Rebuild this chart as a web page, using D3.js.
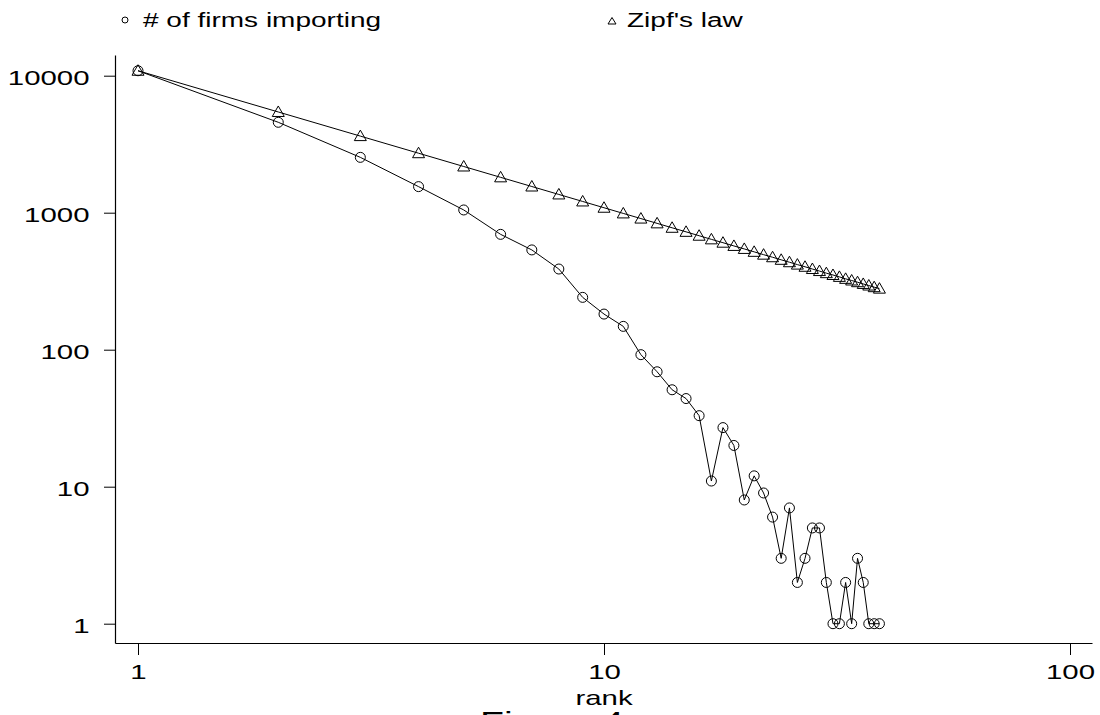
<!DOCTYPE html>
<html>
<head>
<meta charset="utf-8">
<script src="https://cdn.jsdelivr.net/npm/d3@7"></script>
<style>
  html, body { margin: 0; padding: 0; background: #fff; }
  svg { display: block; font-family: "Liberation Sans", Arial, sans-serif; }
</style>
</head>
<body>
<svg id="chart" width="1100" height="715"></svg>
<script>
// ---- data ----
const ranks = [1,2,3,4,5,6,7,8,9,10,11,12,13,14,15,16,17,18,19,20,21,22,23,24,25,26,27,28,29,30,31,32,33,34,35,36,37,38,39];
const firmsImporting = [10870,4570,2535,1550,1047,695,535,388,241,182,148,92,69,51,44,33,11,27,20,8,12,9,6,3,7,2,3,5,5,2,1,1,2,1,3,2,1,1,1];
const zipfLaw = [10870,5435,3623,2718,2174,1812,1553,1359,1208,1087,988,906,836,776,725,679,639,604,572,544,518,494,473,453,435,418,403,388,375,362,351,340,329,320,311,302,294,286,279];
const xTickValues = [1, 10, 100];
const yTickValues = [1, 10, 100, 1000, 10000];
const legendLabels = ["# of firms importing", "Zipf's law"];
const xTitle = "rank";
const captionText = "Figure 4:";

// ---- layout ----
const SX = 1.4; // horizontal text stretch seen in the reference
const svg = d3.select("#chart");
const x = d3.scaleLog().domain([1, 100]).range([138, 1070]);
const y = d3.scaleLog().domain([1, 10000]).range([623.7, 75.7]);
const axisLeftX = 115, axisRightX = 1092, axisBottomY = 643, axisTopY = 55;

const xAxisScale = x.copy().domain([x.invert(axisLeftX), x.invert(axisRightX)]).range([axisLeftX, axisRightX]);
const yAxisScale = y.copy().domain([y.invert(axisBottomY), y.invert(axisTopY)]).range([axisBottomY, axisTopY]);

// y axis
const gy = svg.append("g").attr("transform", `translate(${axisLeftX},0)`)
  .call(d3.axisLeft(yAxisScale).tickValues(yTickValues).tickFormat(d3.format("d")).tickSize(11).tickSizeOuter(0));
gy.select(".domain").attr("stroke", "#000").attr("stroke-width", 1.2);
gy.selectAll(".tick line").attr("stroke", "#000").attr("stroke-width", 1);
gy.selectAll(".tick text")
  .attr("x", -25.5 / SX).attr("dy", "0.36em").attr("y", 1.5)
  .attr("transform", `scale(${SX},1)`)
  .attr("font-size", 21).attr("fill", "#000")
  .attr("font-family", '"Liberation Sans", Arial, sans-serif');

// x axis
const gx = svg.append("g").attr("transform", `translate(0,${axisBottomY})`)
  .call(d3.axisBottom(xAxisScale).tickValues(xTickValues).tickFormat(d3.format("d")).tickSize(12).tickSizeOuter(0));
gx.select(".domain").attr("stroke", "#000").attr("stroke-width", 1.2);
gx.selectAll(".tick line").attr("stroke", "#000").attr("stroke-width", 1);
gx.selectAll(".tick text")
  .attr("y", 36).attr("dy", 0)
  .attr("transform", `scale(${SX},1)`)
  .attr("font-size", 21).attr("fill", "#000")
  .attr("font-family", '"Liberation Sans", Arial, sans-serif');

// x title
svg.append("g").attr("transform", `translate(604,705) scale(${SX},1)`)
  .append("text").attr("text-anchor", "middle").attr("font-size", 21).attr("fill", "#000").text(xTitle);

// caption (cut off at bottom)
svg.append("g").attr("transform", `translate(480,731) scale(${SX},1)`)
  .append("text").attr("text-anchor", "start").attr("font-size", 28).attr("fill", "#000").text(captionText);

// ---- series ----
const firmsData = ranks.map((r, i) => ({ r, v: firmsImporting[i] }));
const zipfData = ranks.map((r, i) => ({ r, v: zipfLaw[i] }));
const line = d3.line().x(d => x(d.r)).y(d => y(d.v));

svg.append("path").datum(zipfData).attr("d", line)
  .attr("fill", "none").attr("stroke", "#000").attr("stroke-width", 1);
svg.append("path").datum(firmsData).attr("d", line)
  .attr("fill", "none").attr("stroke", "#000").attr("stroke-width", 1);

const triPath = "M0,-6L6,4.5L-6,4.5Z";
svg.append("g").selectAll("path").data(zipfData).join("path")
  .attr("d", triPath)
  .attr("transform", d => `translate(${x(d.r)},${y(d.v)})`)
  .attr("fill", "none").attr("stroke", "#000").attr("stroke-width", 1);

svg.append("g").selectAll("circle").data(firmsData).join("circle")
  .attr("cx", d => x(d.r)).attr("cy", d => y(d.v)).attr("r", 5)
  .attr("fill", "none").attr("stroke", "#000").attr("stroke-width", 1);

// ---- legend ----
const legend = svg.append("g");
legend.append("circle").attr("cx", 125).attr("cy", 20).attr("r", 3)
  .attr("fill", "none").attr("stroke", "#000").attr("stroke-width", 1);
legend.append("g").attr("transform", `translate(143,27) scale(${SX},1)`)
  .append("text").attr("font-size", 20).attr("fill", "#000").text(legendLabels[0]);
legend.append("path").attr("d", "M0,-3.5L4,3L-4,3Z").attr("transform", "translate(612,21)")
  .attr("fill", "none").attr("stroke", "#000").attr("stroke-width", 1);
legend.append("g").attr("transform", `translate(627,27) scale(${SX},1)`)
  .append("text").attr("font-size", 20).attr("fill", "#000").text(legendLabels[1]);
</script>
</body>
</html>
